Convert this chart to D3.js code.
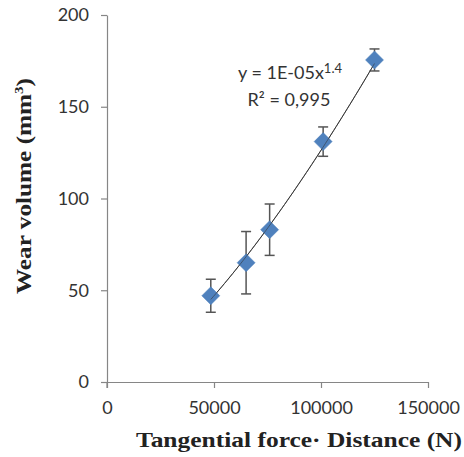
<!DOCTYPE html>
<html>
<head>
<meta charset="utf-8">
<script src="https://cdn.jsdelivr.net/npm/d3@7"></script>
<style>
  html, body { margin: 0; padding: 0; background: #fff; }
  svg { display: block; }
</style>
</head>
<body>
<svg id="chart" width="464" height="457"></svg>
<script>
// Data
const forceDistance = [48500, 65000, 76000, 101000, 125000];
const wearVolume    = [47, 65, 83, 131, 175.5];
const wearError     = [9, 17, 14, 8, 6];
const xTicks = [0, 50000, 100000, 150000];
const yTicks = [0, 50, 100, 150, 200];
const equationText = "y = 1E-05x";
const equationExp = "1.4";
const r2Text = "R² = 0,995";

const svg = d3.select("#chart");
const x = d3.scaleLinear().domain([0, 150000]).range([107, 428]);
const y = d3.scaleLinear().domain([0, 200]).range([382, 15]);

const axisColor = "#868686";
const tickFont = "Lato, 'Open Sans', sans-serif";
const serif = "'Liberation Serif', 'DejaVu Serif', serif";

// Y axis
const yAxis = svg.append("g").attr("transform", `translate(${x(0)},0)`)
  .call(d3.axisLeft(y).tickValues(yTicks).tickSize(6).tickSizeOuter(0).tickPadding(12));
yAxis.select(".domain").attr("stroke", axisColor).attr("stroke-width", 1.2);
yAxis.selectAll(".tick line").attr("stroke", axisColor).attr("stroke-width", 1.2);
yAxis.selectAll(".tick text").attr("font-family", tickFont).attr("font-size", 18).attr("fill", "#333");

// X axis
const xAxis = svg.append("g").attr("transform", `translate(0,${y(0)})`)
  .call(d3.axisBottom(x).tickValues(xTicks).tickFormat(d3.format("d")).tickSize(6).tickSizeOuter(0).tickPadding(13));
xAxis.select(".domain").attr("stroke", axisColor).attr("stroke-width", 1.2);
xAxis.selectAll(".tick line").attr("stroke", axisColor).attr("stroke-width", 1.2);
xAxis.selectAll(".tick text").attr("font-family", tickFont).attr("font-size", 18).attr("fill", "#333");
svg.append("line").attr("x1", x(0)).attr("x2", x(0)).attr("y1", y(0)).attr("y2", y(0) + 6)
  .attr("stroke", axisColor).attr("stroke-width", 1.2);

// Axis titles
svg.append("text")
  .attr("x", 299).attr("y", 447)
  .attr("text-anchor", "middle")
  .attr("font-family", serif)
  .attr("font-weight", "bold").attr("font-size", 22).attr("fill", "#222")
  .attr("textLength", 326).attr("lengthAdjust", "spacingAndGlyphs")
  .text("Tangential force· Distance (N)");

const yTitle = svg.append("text")
  .attr("transform", "translate(31,186) rotate(-90)")
  .attr("text-anchor", "middle")
  .attr("font-family", serif)
  .attr("font-weight", "bold").attr("font-size", 22).attr("fill", "#222")
  .attr("textLength", 216).attr("lengthAdjust", "spacingAndGlyphs");
yTitle.append("tspan").text("Wear volume (mm");
yTitle.append("tspan").attr("dy", -8).attr("font-size", 13).text("3");
yTitle.append("tspan").attr("dy", 8).text(")");

// Power trendline (least squares in log space, as spreadsheet power fit)
const lx = forceDistance.map(Math.log), ly = wearVolume.map(Math.log);
const mx = d3.mean(lx), my = d3.mean(ly);
const b = d3.sum(lx.map((v, i) => (v - mx) * (ly[i] - my))) / d3.sum(lx.map(v => (v - mx) ** 2));
const a = Math.exp(my - b * mx);
const xs = d3.range(0, 61).map(i => forceDistance[0] + (forceDistance[4] - forceDistance[0]) * i / 60);
const trend = d3.line().x(d => x(d)).y(d => y(a * Math.pow(d, b)));
svg.append("path").attr("d", trend(xs))
  .attr("fill", "none").attr("stroke", "#333").attr("stroke-width", 1);

// Error bars
const eb = svg.append("g").attr("stroke", "#555").attr("stroke-width", 1.5);
forceDistance.forEach((fx, i) => {
  const cx = x(fx), top = y(wearVolume[i] + wearError[i]), bot = y(wearVolume[i] - wearError[i]);
  eb.append("line").attr("x1", cx).attr("x2", cx).attr("y1", top).attr("y2", bot);
  eb.append("line").attr("x1", cx - 5).attr("x2", cx + 5).attr("y1", top).attr("y2", top);
  eb.append("line").attr("x1", cx - 5).attr("x2", cx + 5).attr("y1", bot).attr("y2", bot);
});

// Markers (diamonds)
svg.append("g").selectAll("path").data(forceDistance).join("path")
  .attr("transform", (d, i) => `translate(${x(d)},${y(wearVolume[i])})`)
  .attr("d", "M0,-9L9,0L0,9L-9,0Z")
  .attr("fill", "#4F81BD").attr("stroke", "#4A7EBB").attr("stroke-width", 0.5);

// Trendline visible through markers
svg.append("path").attr("d", trend(xs))
  .attr("fill", "none").attr("stroke", "#333").attr("stroke-width", 0.8).attr("opacity", 0.7);

// Equation labels
const eq = svg.append("text").attr("x", 290).attr("y", 79).attr("text-anchor", "middle")
  .attr("font-family", tickFont).attr("font-size", 18).attr("fill", "#333");
eq.append("tspan").text(equationText);
eq.append("tspan").attr("dy", -6).attr("font-size", 13).text(equationExp);
svg.append("text").attr("x", 289).attr("y", 106).attr("text-anchor", "middle")
  .attr("font-family", tickFont).attr("font-size", 18).attr("fill", "#333")
  .text(r2Text);
</script>
</body>
</html>
